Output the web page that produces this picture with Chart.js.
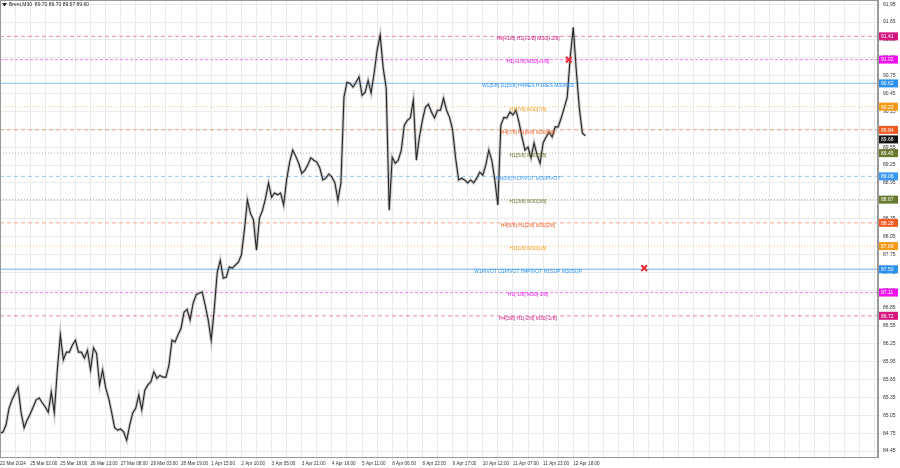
<!DOCTYPE html>
<html>
<head>
<meta charset="utf-8">
<script src="https://cdn.jsdelivr.net/npm/chart.js@4.4.1/dist/chart.umd.min.js"></script>
<style>
  html, body { margin: 0; padding: 0; background: #fff; }
  canvas { display: block; }
</style>
</head>
<body>
<canvas id="chart" width="900" height="468"></canvas>
<script>
const symbolTitle = "Brent,M30  89.70 89.70 89.57 89.60";

// one time label every 10 samples
const timeLabels = ["22 Mar 2024", "25 Mar 02:00", "25 Mar 18:00", "26 Mar 13:00", "27 Mar 08:00",
  "28 Mar 03:00", "28 Mar 19:00", "1 Apr 15:00", "2 Apr 10:00", "3 Apr 05:00", "3 Apr 21:00",
  "4 Apr 16:00", "5 Apr 11:00", "8 Apr 06:00", "8 Apr 22:00", "9 Apr 17:00", "10 Apr 12:00",
  "11 Apr 07:00", "11 Apr 23:00", "12 Apr 18:00"];

// price, one sample every ~1.5 h
const prices = [
  84.75, 84.77, 84.89, 85.17, 85.31, 85.42, 85.52, 85.09, 84.84, 84.97,
  85.07, 85.19, 85.31, 85.34, 85.26, 85.19, 85.10, 85.44, 85.09, 85.81,
  86.40, 85.98, 86.11, 86.11, 86.23, 86.31, 86.11, 86.11, 86.01, 86.14,
  85.81, 86.18, 86.09, 85.56, 85.81, 85.52, 85.34, 85.10, 84.84, 84.80,
  84.82, 84.77, 84.63, 84.89, 85.09, 85.17, 85.39, 85.14, 85.47, 85.56,
  85.61, 85.78, 85.67, 85.72, 85.69, 85.69, 85.89, 86.31, 86.28, 86.40,
  86.51, 86.78, 86.83, 86.65, 86.93, 87.07, 87.10, 87.12, 86.90, 86.65,
  86.31, 86.82, 87.45, 87.65, 87.35, 87.37, 87.54, 87.52, 87.57, 87.62,
  87.74, 88.16, 88.66, 88.44, 88.33, 87.82, 88.36, 88.49, 88.69, 88.95,
  88.71, 88.78, 88.75, 88.78, 88.58, 89.00, 89.30, 89.50, 89.40, 89.28,
  89.11, 89.16, 89.25, 89.37, 89.33, 89.30, 89.20, 89.00, 89.03, 89.10,
  89.05, 88.95, 88.66, 88.95, 90.39, 90.64, 90.62, 90.56, 90.64, 90.73,
  90.42, 90.47, 90.67, 90.46, 90.79, 91.18, 91.43, 90.88, 90.54, 88.49,
  89.38, 89.28, 89.33, 89.50, 89.92, 90.00, 90.04, 90.34, 89.33, 89.72,
  90.00, 90.22, 90.27, 90.14, 90.04, 90.17, 90.17, 90.37, 90.17, 90.05,
  89.84, 89.37, 89.00, 89.03, 89.00, 88.95, 89.00, 88.95, 89.03, 89.13,
  89.08, 89.25, 89.50, 89.33, 89.00, 88.58, 89.92, 90.05, 90.04, 90.14,
  90.09, 90.17, 89.97, 89.72, 89.50, 89.55, 89.37, 89.62, 89.42, 89.28,
  89.62, 89.72, 89.80, 89.72, 89.89, 89.89, 90.04, 90.21, 90.39, 91.06,
  91.56, 90.84, 90.21, 89.79, 89.74
];
const lastSample = 291; // samples that fit the window, incl. empty shift area

const yTicks = [84.45, 84.75, 85.05, 85.35, 85.65, 85.95, 86.25, 86.55, 86.85, 87.15, 87.45,
  87.75, 88.05, 88.35, 88.65, 88.95, 89.25, 89.55, 89.85, 90.15, 90.45, 90.75, 91.05, 91.35,
  91.65, 91.95];

const levelPrices = [91.41, 91.02, 90.62, 90.23, 89.84, 89.45, 89.06, 88.67, 88.28, 87.89, 87.50, 87.11, 86.72];
const levelNames = ["H4[+1/8] H1[+2/8] M30[+2/8]", "H1[+1/8] M30[+1/8]", "W1[5/8] D1[5/8] H4RES H1RES M30RES",
  "H1[7/8] M30[7/8]", "H4[7/8] H1[6/8] M30[6/8]", "H1[5/8] M30[5/8]", "H4[6/8] H1PIVOT M30PIVOT",
  "H1[3/8] M30[3/8]", "H4[5/8] H1[2/8] M30[2/8]", "H1[1/8] M30[1/8]",
  "W1PIVOT D1PIVOT H4PIVOT H1SUP M30SUP", "H1[-1/8] M30[-1/8]", "H4[3/8] H1[-2/8] M30[-2/8]"];
const levelColors = ["#d4187f", "#ee10ee", "#2a90f0", "#f59a18", "#f25a22", "#687a2e", "#3a98f5",
  "#687a2e", "#f25a22", "#f59a18", "#2a90f0", "#ee10ee", "#d4187f"];
const levelDash = [[4, 3], [3, 2], [], [1, 2], [4, 3], [1, 2], [4, 3], [1, 2], [4, 3], [1, 2], [], [3, 2], [4, 3]];
const levelTextAt = 175;

const currentPrice = 89.68;
const markSamples = [188.5, 213.5];
const markPrices = [91.02, 87.52];

const FONT = "Liberation Sans";

const levelSets = levelPrices.map((p, i) => ({
  type: 'line',
  data: [{x: 0, y: p}, {x: lastSample, y: p}],
  borderColor: levelColors[i] + (levelDash[i].length ? '88' : '77'),
  borderWidth: levelDash[i].length ? 1 : 1.4,
  borderDash: levelDash[i],
  pointRadius: 0,
  order: 5
}));

const overlay = {
  id: 'overlay',
  afterDatasetsDraw(chart) {
    const {ctx, scales: {x, y}} = chart;
    ctx.save();
    ctx.font = "5px " + FONT;
    ctx.textAlign = 'center';
    ctx.textBaseline = 'middle';
    levelPrices.forEach((p, i) => {
      ctx.fillStyle = levelColors[i];
      ctx.fillText(levelNames[i], x.getPixelForValue(levelTextAt), y.getPixelForValue(p) + 2.5);
    });
    ctx.restore();
  },
  afterDraw(chart) {
    const {ctx, chartArea: a, scales: {y}} = chart;
    ctx.save();
    ctx.strokeStyle = '#999';
    ctx.lineWidth = 1;
    ctx.strokeRect(a.left + 0.5, a.top + 0.5, a.right - a.left - 1, a.bottom - a.top);
    // title
    ctx.fillStyle = '#222';
    ctx.beginPath();
    ctx.moveTo(2, 3); ctx.lineTo(7, 3); ctx.lineTo(4.5, 6.5); ctx.closePath(); ctx.fill();
    ctx.font = "5px " + FONT;
    ctx.textBaseline = 'middle';
    ctx.fillText(symbolTitle, 9, 4.5);
    // price tags on the right axis
    const tag = (p, col) => {
      const py = y.getPixelForValue(p);
      ctx.fillStyle = col;
      ctx.fillRect(a.right + 1, py - 4, 19, 8);
      ctx.fillStyle = '#fff';
      ctx.textAlign = 'left';
      ctx.fillText(p.toFixed(2), a.right + 3, py + 0.5);
    };
    levelPrices.forEach((p, i) => tag(p, levelColors[i]));
    tag(currentPrice, '#111');
    ctx.restore();
  }
};

new Chart(document.getElementById('chart'), {
  data: {
    datasets: [
      {
        type: 'scatter',
        data: markSamples.map((s, i) => ({x: s, y: markPrices[i]})),
        pointStyle: 'crossRot',
        pointRadius: 4,
        borderColor: '#e8303a',
        borderWidth: 2.2,
        order: -1
      },
      {
        type: 'line',
        data: prices.map((v, i) => ({x: i, y: v})),
        borderColor: '#262626',
        borderWidth: 1.1,
        pointRadius: 0,
        tension: 0,
        order: 0
      },
      {
        type: 'line',
        data: prices.map((v, i) => ({x: i, y: v})),
        borderColor: 'rgba(120,120,120,0.4)',
        borderWidth: 3,
        pointRadius: 0,
        tension: 0,
        order: 1
      },
      ...levelSets
    ]
  },
  options: {
    responsive: false,
    animation: false,
    devicePixelRatio: 1,
    layout: {padding: 0, autoPadding: false},
    plugins: {legend: {display: false}, tooltip: {enabled: false}},
    scales: {
      x: {
        type: 'linear',
        min: 0,
        max: lastSample,
        afterFit(s) { s.height = 11; s.paddingLeft = 0; s.paddingRight = 0; },
        ticks: {
          stepSize: 5,
          autoSkip: false,
          includeBounds: false,
          maxRotation: 0,
          align: 'start',
          padding: 1,
          color: '#333',
          font: {size: 4.6, family: FONT},
          callback: v => (v % 10 === 0 ? (timeLabels[v / 10] || '') : '')
        },
        grid: {color: '#ebebeb', tickLength: 3},
        border: {color: '#999'}
      },
      y: {
        position: 'right',
        min: 84.35,
        max: 92.02,
        afterFit(s) { s.width = 22; s.paddingTop = 0; s.paddingBottom = 0; },
        afterBuildTicks(s) { s.ticks = yTicks.map(v => ({value: v})); },
        ticks: {
          padding: 2,
          color: '#333',
          font: {size: 5, family: FONT},
          callback: v => Number(v).toFixed(2)
        },
        grid: {color: '#ebebeb', tickLength: 3},
        border: {color: '#999'}
      }
    }
  },
  plugins: [overlay]
});
</script>
</body>
</html>
